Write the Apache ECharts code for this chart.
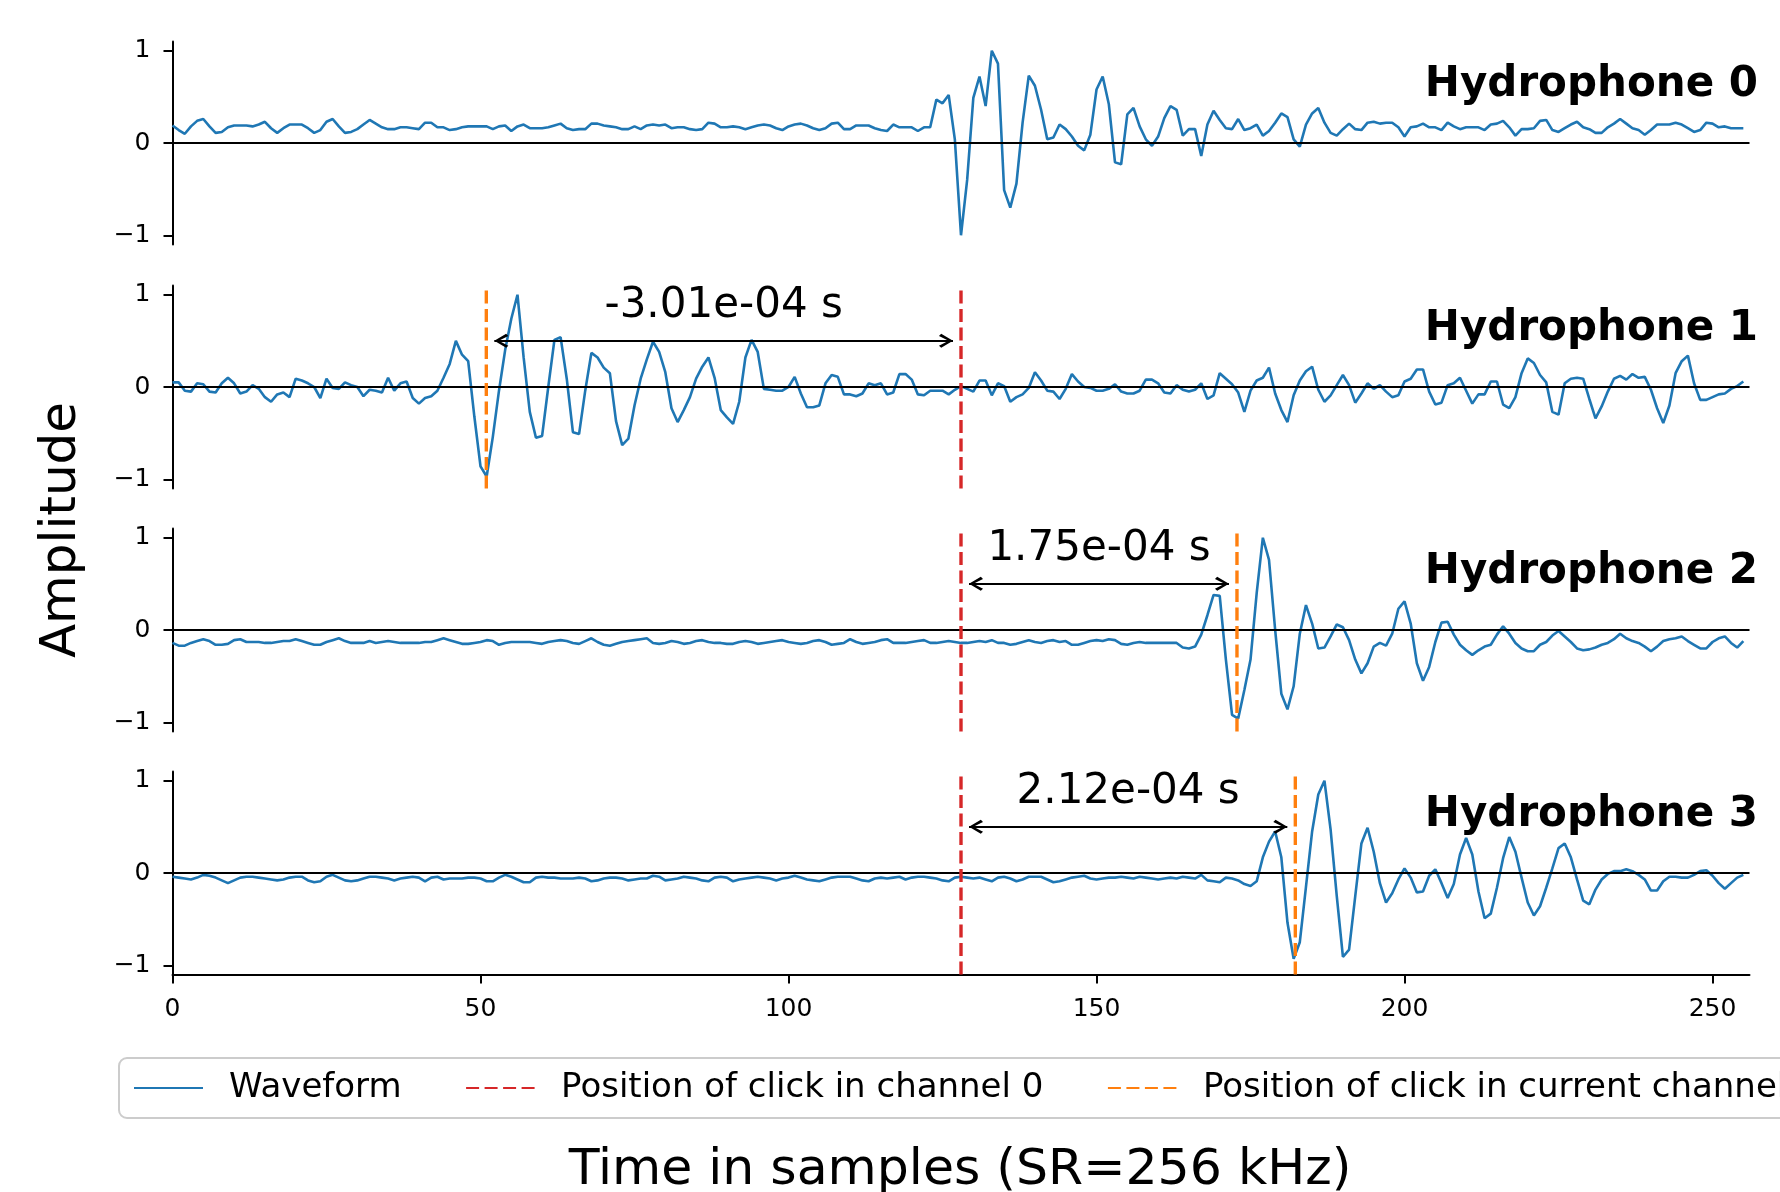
<!DOCTYPE html>
<html>
<head>
<meta charset="utf-8">
<title>Click position per hydrophone</title>
<script src="https://cdn.jsdelivr.net/npm/echarts@6/dist/echarts.min.js"></script>
<style>
html,body{margin:0;padding:0;background:#fff;}
#main{width:1780px;height:1192px;}
</style>
</head>
<body>
<div id="main"></div>
<script>
// channel names and click info
var channelNames = ['Hydrophone 0', 'Hydrophone 1', 'Hydrophone 2', 'Hydrophone 3'];
var sampleRate = 256000;          // Hz
var refClick = 128;               // position of click in channel 0 (samples)
var delays = [null, -3.01e-4, 1.75e-4, 2.12e-4];   // delay to channel 0, seconds
var xTicks = [0, 50, 100, 150, 200, 250];
var yTicks = [-1, 0, 1];

// waveforms, one value per sample
var wave0 = [
 0.19,0.14,0.10,0.18,0.24,0.26,0.18,0.11,0.12,0.17,0.19,0.19,0.19,0.18,0.20,0.23,
 0.16,0.11,0.16,0.20,0.20,0.20,0.16,0.11,0.14,0.23,0.26,0.18,0.11,0.12,0.15,0.20,
 0.25,0.21,0.17,0.15,0.15,0.17,0.17,0.16,0.15,0.22,0.22,0.17,0.17,0.14,0.15,0.17,
 0.18,0.18,0.18,0.18,0.15,0.18,0.19,0.13,0.18,0.20,0.16,0.16,0.16,0.17,0.19,0.21,
 0.16,0.14,0.15,0.15,0.21,0.21,0.19,0.18,0.17,0.15,0.15,0.18,0.15,0.19,0.20,0.19,
 0.20,0.16,0.17,0.17,0.15,0.14,0.15,0.22,0.21,0.17,0.17,0.18,0.17,0.15,0.17,0.19,
 0.20,0.19,0.16,0.14,0.18,0.20,0.21,0.19,0.16,0.14,0.16,0.21,0.22,0.15,0.15,0.19,
 0.19,0.19,0.16,0.14,0.13,0.20,0.17,0.17,0.17,0.13,0.17,0.17,0.47,0.43,0.52,0.04,
 -1.00,-0.40,0.49,0.72,0.40,1.00,0.86,-0.51,-0.70,-0.44,0.22,0.73,0.62,0.36,0.04,0.06,
 0.20,0.15,0.07,-0.03,-0.08,0.09,0.58,0.72,0.42,-0.21,-0.23,0.31,0.38,0.18,0.04,-0.03,
 0.07,0.27,0.40,0.36,0.08,0.15,0.15,-0.14,0.20,0.35,0.25,0.16,0.15,0.26,0.14,0.16,
 0.20,0.08,0.13,0.22,0.32,0.28,0.04,-0.04,0.20,0.32,0.38,0.22,0.11,0.08,0.15,0.21,
 0.15,0.14,0.22,0.23,0.21,0.22,0.22,0.17,0.07,0.17,0.18,0.21,0.17,0.17,0.14,0.22,
 0.18,0.15,0.17,0.17,0.17,0.14,0.20,0.21,0.24,0.17,0.08,0.15,0.15,0.16,0.24,0.25,
 0.14,0.12,0.16,0.20,0.23,0.17,0.15,0.11,0.11,0.17,0.21,0.26,0.21,0.16,0.14,0.09,
 0.14,0.20,0.20,0.20,0.22,0.20,0.16,0.12,0.14,0.22,0.21,0.17,0.18,0.16,0.16,0.16
];
var wave1 = [
 0.05,0.05,-0.04,-0.05,0.04,0.03,-0.05,-0.06,0.04,0.10,0.04,-0.07,-0.05,0.02,-0.02,-0.11,
 -0.16,-0.08,-0.06,-0.11,0.09,0.07,0.04,0.00,-0.12,0.09,-0.01,-0.02,0.05,0.02,0.00,-0.10,
 -0.03,-0.04,-0.06,0.10,-0.04,0.04,0.06,-0.12,-0.18,-0.12,-0.10,-0.04,0.10,0.25,0.50,0.35,
 0.28,-0.32,-0.86,-0.97,-0.54,-0.04,0.40,0.74,1.00,0.32,-0.27,-0.55,-0.53,0.00,0.51,0.54,
 0.09,-0.49,-0.51,-0.04,0.37,0.32,0.21,0.15,-0.37,-0.63,-0.56,-0.20,0.09,0.30,0.49,0.38,
 0.16,-0.23,-0.38,-0.25,-0.11,0.09,0.22,0.32,0.10,-0.25,-0.33,-0.40,-0.16,0.32,0.51,0.38,
 -0.02,-0.03,-0.04,-0.04,0.00,0.11,-0.07,-0.22,-0.22,-0.20,0.04,0.13,0.11,-0.08,-0.08,-0.10,
 -0.07,0.04,0.02,0.04,-0.08,-0.06,0.14,0.14,0.08,-0.08,-0.09,-0.04,-0.04,-0.04,-0.08,-0.03,
 0.01,-0.02,-0.05,0.07,0.07,-0.09,0.04,0.01,-0.16,-0.11,-0.08,-0.01,0.16,0.07,-0.04,-0.05,
 -0.13,-0.02,0.14,0.06,0.00,-0.01,-0.04,-0.04,-0.02,0.03,-0.05,-0.07,-0.07,-0.04,0.08,0.08,
 0.04,-0.06,-0.07,0.02,-0.03,-0.05,-0.03,0.04,-0.13,-0.09,0.15,0.09,0.03,-0.06,-0.27,-0.04,
 0.07,0.10,0.21,-0.07,-0.25,-0.38,-0.09,0.07,0.17,0.22,-0.03,-0.16,-0.09,0.02,0.13,0.02,
 -0.17,-0.07,0.04,-0.02,0.02,-0.05,-0.11,-0.09,0.06,0.09,0.19,0.19,-0.05,-0.19,-0.17,0.02,
 0.04,0.10,-0.04,-0.18,-0.08,-0.08,0.06,0.06,-0.19,-0.23,-0.11,0.15,0.31,0.26,0.13,0.05,
 -0.27,-0.30,0.04,0.09,0.10,0.09,-0.13,-0.34,-0.21,-0.05,0.09,0.12,0.08,0.14,0.10,0.11,
 -0.03,-0.23,-0.39,-0.20,0.15,0.28,0.34,0.04,-0.14,-0.14,-0.11,-0.08,-0.07,-0.02,0.01,0.06
];
var wave2 = [
 -0.14,-0.17,-0.17,-0.14,-0.12,-0.10,-0.12,-0.16,-0.16,-0.15,-0.11,-0.10,-0.13,-0.13,-0.13,-0.14,
 -0.14,-0.13,-0.12,-0.12,-0.10,-0.12,-0.14,-0.16,-0.16,-0.13,-0.11,-0.09,-0.12,-0.14,-0.14,-0.14,
 -0.12,-0.14,-0.13,-0.12,-0.13,-0.14,-0.14,-0.14,-0.14,-0.13,-0.13,-0.11,-0.09,-0.11,-0.13,-0.15,
 -0.15,-0.14,-0.13,-0.11,-0.12,-0.16,-0.14,-0.13,-0.13,-0.13,-0.13,-0.14,-0.15,-0.13,-0.12,-0.11,
 -0.12,-0.14,-0.15,-0.12,-0.09,-0.13,-0.16,-0.17,-0.15,-0.13,-0.12,-0.11,-0.10,-0.09,-0.14,-0.15,
 -0.14,-0.12,-0.13,-0.15,-0.14,-0.12,-0.11,-0.13,-0.14,-0.14,-0.15,-0.15,-0.13,-0.12,-0.13,-0.15,
 -0.14,-0.13,-0.12,-0.11,-0.13,-0.14,-0.15,-0.14,-0.12,-0.11,-0.13,-0.16,-0.15,-0.14,-0.10,-0.13,
 -0.15,-0.14,-0.13,-0.11,-0.10,-0.14,-0.14,-0.14,-0.13,-0.12,-0.11,-0.14,-0.14,-0.13,-0.12,-0.13,
 -0.14,-0.14,-0.13,-0.12,-0.13,-0.11,-0.14,-0.14,-0.16,-0.15,-0.13,-0.11,-0.13,-0.14,-0.12,-0.11,
 -0.13,-0.12,-0.16,-0.16,-0.14,-0.12,-0.11,-0.12,-0.10,-0.11,-0.15,-0.16,-0.14,-0.13,-0.14,-0.14,
 -0.14,-0.14,-0.14,-0.14,-0.19,-0.20,-0.18,-0.05,0.16,0.38,0.37,-0.32,-0.92,-0.96,-0.65,-0.32,
 0.40,1.00,0.76,0.00,-0.69,-0.86,-0.61,-0.04,0.27,0.07,-0.20,-0.19,-0.07,0.06,0.03,-0.11,
 -0.32,-0.47,-0.36,-0.18,-0.14,-0.17,-0.04,0.23,0.31,0.07,-0.36,-0.55,-0.40,-0.13,0.08,0.09,
 -0.05,-0.16,-0.22,-0.27,-0.22,-0.18,-0.16,-0.05,0.04,-0.04,-0.14,-0.20,-0.23,-0.23,-0.16,-0.13,
 -0.06,-0.01,-0.07,-0.13,-0.20,-0.22,-0.21,-0.19,-0.16,-0.14,-0.10,-0.04,-0.09,-0.12,-0.14,-0.18,
 -0.23,-0.18,-0.12,-0.10,-0.09,-0.07,-0.12,-0.16,-0.20,-0.20,-0.13,-0.09,-0.07,-0.14,-0.19,-0.12
];
var wave3 = [
 -0.04,-0.05,-0.06,-0.07,-0.05,-0.02,-0.03,-0.05,-0.08,-0.11,-0.08,-0.05,-0.04,-0.04,-0.05,-0.06,
 -0.07,-0.08,-0.07,-0.05,-0.04,-0.04,-0.08,-0.10,-0.09,-0.04,-0.02,-0.05,-0.08,-0.09,-0.08,-0.06,
 -0.04,-0.04,-0.05,-0.06,-0.08,-0.06,-0.05,-0.04,-0.05,-0.09,-0.05,-0.04,-0.07,-0.06,-0.06,-0.06,
 -0.05,-0.05,-0.06,-0.09,-0.09,-0.05,-0.02,-0.04,-0.07,-0.10,-0.10,-0.05,-0.04,-0.05,-0.05,-0.06,
 -0.06,-0.06,-0.05,-0.06,-0.09,-0.08,-0.06,-0.05,-0.05,-0.06,-0.08,-0.07,-0.06,-0.06,-0.03,-0.04,
 -0.08,-0.07,-0.06,-0.04,-0.05,-0.06,-0.08,-0.09,-0.05,-0.04,-0.05,-0.09,-0.07,-0.06,-0.05,-0.04,
 -0.05,-0.06,-0.08,-0.06,-0.05,-0.03,-0.05,-0.07,-0.08,-0.09,-0.07,-0.05,-0.04,-0.04,-0.04,-0.06,
 -0.08,-0.09,-0.06,-0.05,-0.06,-0.05,-0.04,-0.07,-0.05,-0.04,-0.04,-0.05,-0.06,-0.08,-0.09,-0.05,
 -0.04,-0.05,-0.06,-0.05,-0.07,-0.09,-0.05,-0.04,-0.06,-0.09,-0.07,-0.04,-0.04,-0.04,-0.07,-0.10,
 -0.09,-0.07,-0.05,-0.04,-0.03,-0.06,-0.07,-0.06,-0.05,-0.05,-0.04,-0.05,-0.06,-0.04,-0.05,-0.06,
 -0.07,-0.06,-0.05,-0.06,-0.04,-0.05,-0.06,-0.02,-0.08,-0.09,-0.10,-0.05,-0.06,-0.08,-0.12,-0.14,
 -0.09,0.17,0.34,0.45,0.17,-0.54,-0.93,-0.75,-0.15,0.45,0.85,1.00,0.47,-0.25,-0.91,-0.83,
 -0.25,0.32,0.49,0.23,-0.11,-0.32,-0.22,-0.07,0.05,-0.05,-0.21,-0.20,-0.03,0.04,-0.11,-0.27,
 -0.12,0.20,0.38,0.20,-0.20,-0.49,-0.44,-0.16,0.16,0.39,0.23,-0.05,-0.32,-0.46,-0.36,-0.16,
 0.05,0.27,0.32,0.17,-0.07,-0.30,-0.34,-0.18,-0.07,-0.01,0.02,0.02,0.04,0.02,-0.02,-0.07,
 -0.19,-0.19,-0.09,-0.04,-0.04,-0.05,-0.05,-0.02,0.02,0.03,-0.03,-0.11,-0.17,-0.11,-0.05,-0.02
];
var waves = [wave0, wave1, wave2, wave3];

// layout
var FONT = 'DejaVu Sans';
var yMin = -1.1, yMax = 1.1;
var gridTops = [41.5, 285.5, 528.5, 771.5];
var gridH = 203;
var arrowLevel = 0.5;       // arrow height in amplitude units
var textLevel = 0.88;       // delay text height
var arrowGap = 1.3;         // samples left free at each arrow end
var chevron = 'path://M5,0 L10,8 L8.5,9.5 L5,3 L1.5,9.5 L0,8 Z';

// python style "%.2e s"
function sciText(v) {
	var p = v.toExponential(2).split('e');
	var e = parseInt(p[1], 10);
	var a = Math.abs(e);
	return p[0] + 'e' + (e < 0 ? '-' : '+') + (a < 10 ? '0' : '') + a + ' s';
}

var grids = [], xAxes = [], yAxes = [], titles = [], series = [];

for (var k = 0; k < 4; k++) {
	var last = (k == 3);
	grids.push({left: 172.5, right: 30.5, top: gridTops[k], height: gridH});
	xAxes.push({
		type: 'value', gridIndex: k, min: 0, max: 256, show: last,
		axisLine: {show: true, onZero: false, lineStyle: {color: '#000', width: 2}},
		axisTick: {show: true, length: 9, customValues: xTicks, lineStyle: {color: '#000', width: 2}},
		axisLabel: {show: true, customValues: xTicks, fontSize: 25, color: '#000', fontFamily: FONT, margin: 22},
		splitLine: {show: false}
	});
	yAxes.push({
		type: 'value', gridIndex: k, min: yMin, max: yMax,
		axisLine: {show: true, onZero: false, lineStyle: {color: '#000', width: 2}},
		axisTick: {show: true, length: 9, customValues: yTicks, lineStyle: {color: '#000', width: 2}},
		axisLabel: {show: true, customValues: yTicks, fontSize: 25, color: '#000', fontFamily: FONT, margin: 22,
			formatter: function (v) { return v < 0 ? '\u2212' + Math.abs(v) : String(v); }},
		splitLine: {show: false}
	});
	titles.push({
		text: channelNames[k], right: 22, top: gridTops[k] + 23, padding: 0,
		textStyle: {fontSize: 42, fontWeight: 'bold', color: '#000', fontFamily: FONT, lineHeight: 42}
	});

	// waveform + zero line
	series.push({
		name: 'Waveform', type: 'line', xAxisIndex: k, yAxisIndex: k,
		data: waves[k].map(function (v, i) { return [i, v]; }),
		symbol: 'none', z: 2,
		lineStyle: {color: '#1f77b4', width: 2.6},
		itemStyle: {color: '#1f77b4'},
		markLine: {
			silent: true, symbol: 'none', animation: false, z: 3,
			label: {show: false},
			lineStyle: {color: '#000', width: 2.2, type: 'solid'},
			data: [{yAxis: 0}]
		}
	});

	if (k == 0) continue;

	var cur = refClick + delays[k] * sampleRate;
	var lo = Math.min(cur, refClick), hi = Math.max(cur, refClick);

	// click in channel 0
	series.push({
		name: 'Position of click in channel 0', type: 'line', xAxisIndex: k, yAxisIndex: k,
		data: [[refClick, yMin], [refClick, yMax]],
		symbol: 'none', z: 6,
		lineStyle: {color: '#d62728', width: 3.4, type: [13, 5.5]},
		itemStyle: {color: '#d62728'}
	});
	// click in this channel, with delay arrow and text
	series.push({
		name: 'Position of click in current channel', type: 'line', xAxisIndex: k, yAxisIndex: k,
		data: [[cur, yMin], [cur, yMax]],
		symbol: 'none', z: 6,
		lineStyle: {color: '#ff7f0e', width: 3.4, type: [13, 5.5]},
		itemStyle: {color: '#ff7f0e'},
		markLine: {
			silent: true, animation: false,
			symbol: [chevron, chevron], symbolSize: [14, 14],
			symbolOffset: [[0, '50%'], [0, '50%']],
			label: {show: false},
			lineStyle: {color: '#000', width: 2, type: 'solid'},
			data: [[{coord: [lo + arrowGap, arrowLevel]}, {coord: [hi - arrowGap, arrowLevel]}]]
		},
		markPoint: {
			silent: true, animation: false, symbol: 'circle', symbolSize: 1,
			itemStyle: {color: 'rgba(0,0,0,0)'},
			label: {show: true, position: 'inside', formatter: '{b}', fontSize: 42, color: '#000', fontFamily: FONT},
			data: [{name: sciText(delays[k]), coord: [(lo + hi) / 2, textLevel]}]
		}
	});
}

var option = {
	animation: false,
	backgroundColor: '#fff',
	textStyle: {fontFamily: FONT},
	title: titles,
	grid: grids,
	xAxis: xAxes,
	yAxis: yAxes,
	legend: {
		data: ['Waveform', 'Position of click in channel 0', 'Position of click in current channel'],
		left: 119, top: 1058, width: 2400,
		itemWidth: 69, itemHeight: 20, itemGap: 63.5,
		padding: [13, 14, 13, 14],
		backgroundColor: '#fff',
		borderColor: '#cccccc', borderWidth: 2, borderRadius: 8,
		itemStyle: {opacity: 0, borderWidth: 0},
		textStyle: {fontSize: 34, color: '#000', fontFamily: FONT, padding: [0, 0, 0, 21]}
	},
	graphic: [
		{type: 'text', x: 62, y: 530, rotation: Math.PI / 2,
			style: {text: 'Amplitude', font: '50px "DejaVu Sans"', fill: '#000', align: 'center', verticalAlign: 'middle'}},
		{type: 'text', x: 960, y: 1170.5,
			style: {text: 'Time in samples (SR=256 kHz)', font: '50.5px "DejaVu Sans"', fill: '#000', align: 'center', verticalAlign: 'middle'}}
	],
	series: series
};

var myChart = echarts.init(document.getElementById('main'));
myChart.setOption(option);
</script>
</body>
</html>
